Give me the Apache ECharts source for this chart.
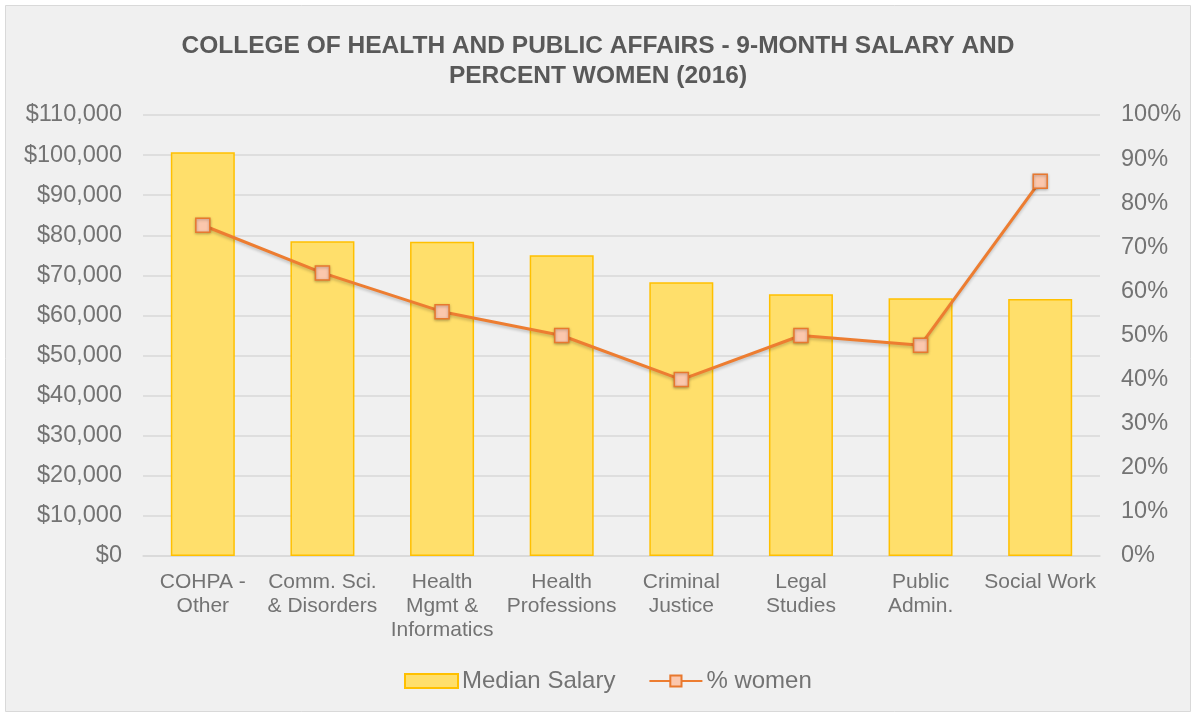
<!DOCTYPE html>
<html><head><meta charset="utf-8">
<script src="https://cdn.jsdelivr.net/npm/echarts@6/dist/echarts.min.js"></script>
<style>html,body{margin:0;padding:0;background:#fff}#c{width:1196px;height:717px}</style>
</head><body><div id="c"></div>
<script>
const categories = ["COHPA -\nOther", "Comm. Sci.\n& Disorders", "Health\nMgmt &\nInformatics", "Health\nProfessions", "Criminal\nJustice", "Legal\nStudies", "Public\nAdmin.", "Social Work"];
const medianSalary = [100700, 78500, 78400, 75000, 68300, 65300, 64300, 64100];
const pctWomen = [75, 64.2, 55.4, 50, 40, 50, 47.8, 85];
const titleText = "COLLEGE OF HEALTH AND PUBLIC AFFAIRS - 9-MONTH SALARY AND\nPERCENT WOMEN (2016)";

const chart = echarts.init(document.getElementById('c'));
const txt = '#737373';
const font = 'Liberation Sans';
chart.setOption({
  backgroundColor: '#fff',
  graphic: [{type:'rect', shape:{x:5.5,y:5.5,width:1185,height:706}, style:{fill:'#f0f0f0', stroke:'#d9d9d9', lineWidth:1}, z:-10}],
  title: {text: titleText, left: 'center', top: 26, textStyle:{fontFamily:font, fontSize:24.5, fontWeight:'bold', color:'#595959', lineHeight:30}},
  legend: {bottom: 19, left: 399, itemGap: 33, itemWidth: 53, itemHeight: 14,
    textStyle:{fontFamily:font, fontSize:24, color:txt, padding:[0,0,0,-1]},
    data:[{name:'Median Salary', icon:'rect'}, {name:'% women'}]},
  grid: {left:143, right:96, top:115, bottom:161},
  xAxis: {type:'category', data: categories,
    axisLine:{lineStyle:{color:'#d9d9d9', width:1.5}}, axisTick:{show:false},
    axisLabel:{fontFamily:font, fontSize:21, color:txt, lineHeight:24, interval:0, margin:14}},
  yAxis: [
    {type:'value', min:0, max:110000, interval:10000,
     axisLabel:{fontFamily:font, fontSize:23.5, color:txt, margin:21,
       formatter: v => '$' + v.toLocaleString('en-US')},
     splitLine:{lineStyle:{color:'#d9d9d9', width:1.5}}, axisLine:{show:false}, axisTick:{show:false}},
    {type:'value', min:0, max:100, interval:10,
     axisLabel:{fontFamily:font, fontSize:23.5, color:txt, margin:21, formatter:'{value}%'},
     splitLine:{show:false}, axisLine:{show:false}, axisTick:{show:false}}
  ],
  series: [
    {name:'Median Salary', type:'bar', data: medianSalary, barCategoryGap:'46.5%',
     itemStyle:{color:'#ffdf6b', borderColor:'#ffc000', borderWidth:1.5}},
    {name:'% women', type:'line', yAxisIndex:1, data: pctWomen, symbol:'rect', symbolSize:14,
     lineStyle:{color:'#ed7d31', width:3, shadowColor:'rgba(0,0,0,0.2)', shadowBlur:3, shadowOffsetY:2},
     itemStyle:{color:'#fbc7ad', borderColor:'#e8782e', borderWidth:1.5, shadowColor:'rgba(0,0,0,0.3)', shadowBlur:3, shadowOffsetY:1}}
  ]
});
</script></body></html>
